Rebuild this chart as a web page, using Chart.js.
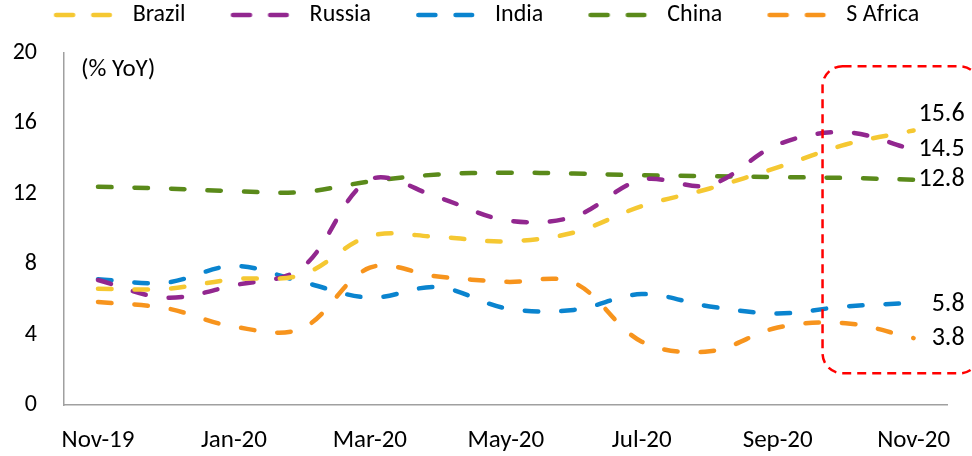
<!DOCTYPE html>
<html>
<head>
<meta charset="utf-8">
<style>
  html, body { margin: 0; padding: 0; background: #fff; }
  #wrap { width: 972px; height: 456px; }
</style>
<script src="https://cdn.jsdelivr.net/npm/chart.js@4.4.1/dist/chart.umd.min.js"></script>
</head>
<body>
<div id="wrap"><canvas id="c" width="972" height="456"></canvas></div>
<script>
// Monthly CPI inflation, % YoY
const months = ['Nov-19', 'Dec-19', 'Jan-20', 'Feb-20', 'Mar-20', 'Apr-20', 'May-20',
                'Jun-20', 'Jul-20', 'Aug-20', 'Sep-20', 'Oct-20', 'Nov-20'];
const seriesNames = ['Brazil', 'Russia', 'India', 'China', 'S Africa'];
const brazil  = [6.6, 6.6, 7.15, 7.4, 9.6, 9.55, 9.3, 9.8, 11.3, 12.3, 13.5, 14.8, 15.6];
const russia  = [7.1, 6.1, 6.8, 7.8, 12.8, 11.8, 10.5, 10.7, 12.8, 12.5, 14.8, 15.5, 14.5];
const india   = [7.15, 6.95, 7.9, 7.0, 6.1, 6.7, 5.5, 5.4, 6.3, 5.6, 5.2, 5.6, 5.8];
const china   = [12.4, 12.3, 12.15, 12.1, 12.7, 13.1, 13.2, 13.15, 13.05, 13.0, 12.95, 12.9, 12.8];
const safrica = [5.85, 5.5, 4.45, 4.35, 7.8, 7.3, 7.0, 6.95, 3.6, 3.05, 4.4, 4.65, 3.8];
const yTicks  = [0, 4, 8, 12, 16, 20];
const unitLabel = '(% YoY)';

const seriesValues = [brazil, russia, india, china, safrica];
const seriesColors = ['#F5C832', '#92278F', '#0A84CF', '#5A8A1A', '#F7941D'];
// vertical nudge (px) for the end-of-line value labels
const endLabelNudge = [-16, 0, 2, 0, 0];

const FONT = 'Carlito, "Liberation Sans Narrow", Lato, sans-serif';
Chart.defaults.font.family = FONT;
Chart.defaults.color = '#000';

// legend swatch: two short round-capped dashes, with leading space that acts as item gap
const SWATCH_W = 92, SWATCH_LEAD = 25;
function legendSwatch(color) {
  const cv = document.createElement('canvas');
  cv.width = SWATCH_W; cv.height = 12;
  const g = cv.getContext('2d');
  g.strokeStyle = color; g.lineWidth = 4.7; g.lineCap = 'round';
  g.beginPath();
  g.moveTo(SWATCH_LEAD + 2.4, 6); g.lineTo(SWATCH_LEAD + 19.3, 6);
  g.moveTo(SWATCH_LEAD + 39.6, 6); g.lineTo(SWATCH_LEAD + 56, 6);
  g.stroke();
  return cv;
}

// fixed height band for the legend so the plot starts below it
const LEGEND_BAND = 70;
const legendBand = {
  id: 'legendBand',
  beforeLayout(chart) {
    const lg = chart.legend;
    if (lg && !lg.__banded) {
      const fit = lg.fit.bind(lg);
      lg.fit = function () { fit(); this.height = LEGEND_BAND; };
      lg.__banded = true;
    }
  }
};

// unit caption, highlighted window and end-of-line values
const overlays = {
  id: 'overlays',
  afterDatasetsDraw(chart) {
    const { ctx, chartArea, scales: { x, y } } = chart;
    ctx.save();

    ctx.font = '25px ' + FONT;
    ctx.fillStyle = '#000';
    ctx.textAlign = 'left';
    ctx.textBaseline = 'middle';
    ctx.fillText(unitLabel, chartArea.left + 17, chartArea.top + 17);

    // dashed rounded box around the latest readings
    const step = x.getPixelForValue(11) - x.getPixelForValue(10);
    const bx = x.getPixelForValue(10) + step * 0.66;
    const by = y.getPixelForValue(19.25);
    const bb = y.getPixelForValue(1.8);
    const br = chartArea.right + 32;
    ctx.strokeStyle = '#FF0000';
    ctx.lineWidth = 2.5;
    ctx.setLineDash([9, 6]);
    ctx.beginPath();
    ctx.roundRect(bx, by, br - bx, bb - by, 20);
    ctx.stroke();
    ctx.setLineDash([]);

    ctx.font = '26px ' + FONT;
    ctx.textAlign = 'right';
    chart.data.datasets.forEach((ds, i) => {
      const meta = chart.getDatasetMeta(i);
      const last = meta.data.length - 1;
      const pt = meta.data[last];
      ctx.fillText(ds.data[last].toFixed(1), pt.x + 51, pt.y + endLabelNudge[i]);
    });
    ctx.restore();
  }
};

new Chart(document.getElementById('c'), {
  type: 'line',
  data: {
    labels: months,
    datasets: seriesNames.map((name, i) => ({
      label: name,
      data: seriesValues[i],
      borderColor: seriesColors[i],
      backgroundColor: seriesColors[i],
      borderWidth: 4.5,
      borderDash: [13.5, 23],
      borderCapStyle: 'round',
      tension: 0.35,
      pointRadius: 0,
      pointHoverRadius: 0,
      fill: false
    }))
  },
  options: {
    responsive: false,
    animation: false,
    layout: { padding: { top: -17, right: 24, left: 0, bottom: 0 } },
    plugins: {
      tooltip: { enabled: false },
      legend: {
        position: 'top',
        align: 'center',
        labels: {
          usePointStyle: true,
          pointStyleWidth: SWATCH_W,
          padding: 20,
          font: { size: 24, family: FONT },
          color: '#000',
          generateLabels(chart) {
            const items = Chart.defaults.plugins.legend.labels.generateLabels(chart);
            items.forEach((it, i) => { it.pointStyle = legendSwatch(seriesColors[i]); });
            return items;
          }
        }
      }
    },
    scales: {
      x: {
        type: 'category',
        offset: true,
        grid: { display: false, drawTicks: false },
        border: { display: true, color: '#A0A0A0', width: 1.5 },
        ticks: {
          autoSkip: false,
          maxRotation: 0,
          padding: 21,
          font: { size: 25, family: FONT },
          color: '#000',
          callback(val, idx) { return idx % 2 === 0 ? months[idx] : ''; }
        },
        afterFit(scale) { scale.height = 51; }
      },
      y: {
        min: 0,
        max: 20,
        grid: { display: false, drawTicks: false },
        border: { display: true, color: '#A0A0A0', width: 1.5 },
        afterBuildTicks(scale) { scale.ticks = yTicks.map(v => ({ value: v })); },
        ticks: {
          padding: 27,
          font: { size: 24, family: FONT },
          color: '#000'
        },
        afterFit(scale) { scale.width = 64; }
      }
    }
  },
  plugins: [legendBand, overlays]
});
</script>
</body>
</html>
